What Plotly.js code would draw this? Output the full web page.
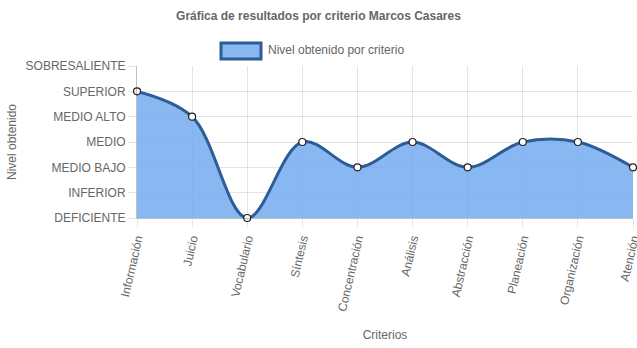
<!DOCTYPE html>
<html>
<head>
<meta charset="utf-8">
<script src="https://cdn.plot.ly/plotly-3.0.1.min.js"></script>
<style>html,body{margin:0;padding:0;background:#fff;}#chart{width:637px;height:348px;}</style>
</head>
<body>
<div id="chart"></div>
<script>
const criterios = ["Información","Juicio","Vocabulario","Síntesis","Concentración","Análisis","Abstracción","Planeación","Organización","Atención"];
const niveles = ["DEFICIENTE","INFERIOR","MEDIO BAJO","MEDIO","MEDIO ALTO","SUPERIOR","SOBRESALIENTE"];
const valores = [5, 4, 0, 3, 2, 3, 2, 3, 3, 2];
const serieNombre = "Nivel obtenido por criterio";

const font = "Liberation Sans, Arial, Helvetica, sans-serif";
const gray = "#666";

const trace = {
  x: criterios,
  y: valores,
  type: "scatter",
  mode: "lines+markers",
  name: serieNombre,
  fill: "tozeroy",
  fillcolor: "rgba(115,170,240,0.85)",
  line: {color: "#2d5d96", width: 3, shape: "spline", smoothing: 1},
  marker: {color: "#ffffff", size: 7, line: {color: "#222", width: 1.2}},
  cliponaxis: false,
  showlegend: false
};

const pxX = p => (p - 137) / 496;
const pxY = p => (218 - p) / 152;

const layout = {
  width: 637, height: 348,
  margin: {l: 137, r: 4, t: 66, b: 130},
  paper_bgcolor: "#fff", plot_bgcolor: "#fff",
  font: {family: font, size: 12, color: gray},
  title: {text: "<b>Gráfica de resultados por criterio Marcos Casares</b>", font: {family: font, size: 12, color: gray},
          x: 0.5, xref: "container", y: 1 - 16/348, yref: "container", yanchor: "middle"},
  xaxis: {
    type: "category", range: [0, criterios.length - 1],
    tickangle: -77, ticks: "outside", ticklen: 8, tickcolor: "rgba(0,0,0,0.1)",
    showgrid: true, gridcolor: "rgba(0,0,0,0.1)", gridwidth: 1,
    showline: true, linecolor: "rgba(0,0,0,0.25)", linewidth: 1,
    tickfont: {family: font, size: 12, color: gray},
    title: {text: "Criterios", font: {family: font, size: 12, color: gray}, standoff: 18},
    zeroline: false, layer: "above traces"
  },
  yaxis: {
    range: [0, 6], tickmode: "array", tickvals: niveles.map((_, i) => i), ticktext: niveles,
    ticks: "outside", ticklen: 8, tickcolor: "rgba(0,0,0,0.1)",
    showgrid: true, gridcolor: "rgba(0,0,0,0.1)", gridwidth: 1,
    showline: true, linecolor: "rgba(0,0,0,0.25)", linewidth: 1,
    tickfont: {family: font, size: 12, color: gray},
    title: {text: "Nivel obtenido", font: {family: font, size: 12, color: gray}, standoff: 6},
    zeroline: false, layer: "above traces"
  },
  shapes: [
    {type: "rect", xref: "paper", yref: "paper", x0: pxX(221), x1: pxX(261), y0: pxY(59), y1: pxY(43),
     fillcolor: "rgba(115,170,240,0.85)", line: {color: "#2d5d96", width: 3}}
  ],
  annotations: [
    {xref: "paper", yref: "paper", x: pxX(266), y: pxY(50), xanchor: "left", yanchor: "middle",
     text: serieNombre, showarrow: false, font: {family: font, size: 12, color: gray}}
  ],
  showlegend: false
};

Plotly.newPlot("chart", [trace], layout, {displayModeBar: false, staticPlot: true});
</script>
</body>
</html>
